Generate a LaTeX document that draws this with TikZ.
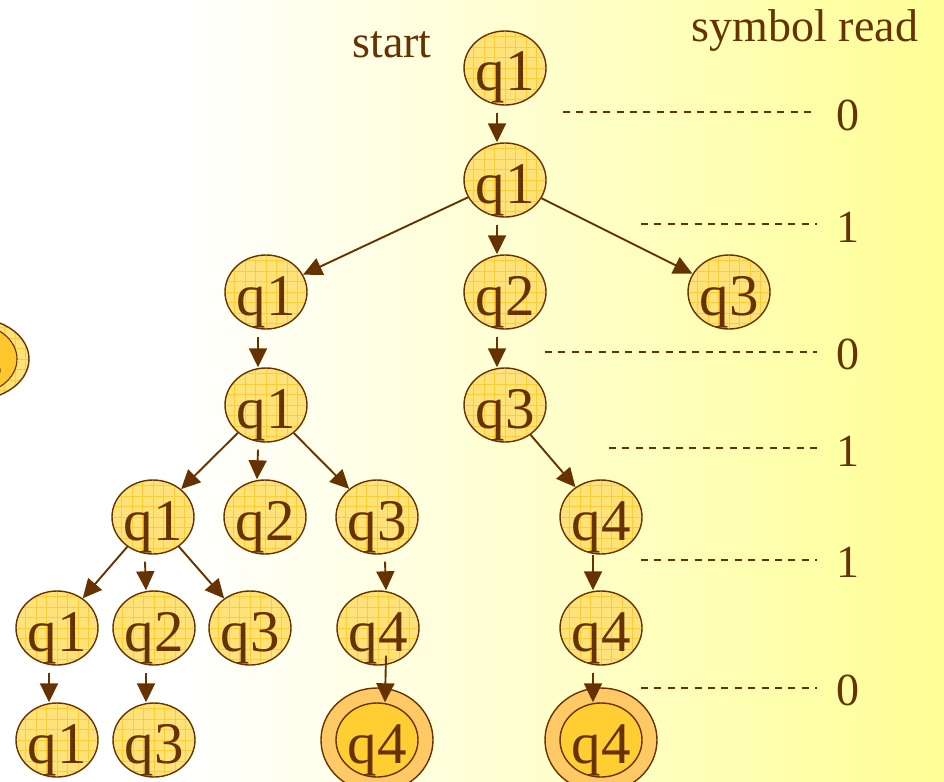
\documentclass[tikz,border=0pt]{standalone}
\usepackage{fontspec}
\setmainfont{Liberation Serif}
\usetikzlibrary{shapes.geometric,arrows.meta}

\definecolor{ink}{RGB}{102,51,0}
\definecolor{nodefill}{RGB}{255,226,122}
\definecolor{gridcol}{RGB}{255,204,51}
\definecolor{accouter}{RGB}{255,201,102}
\definecolor{accinner}{RGB}{255,206,51}
\definecolor{bgyellow}{RGB}{255,255,150}

\tikzset{
  state/.style={ellipse, draw=ink, line width=1.4pt, fill=#1,
    minimum width=82pt, minimum height=74pt, inner sep=0pt,
    path picture={\draw[gridcol, line width=0.6pt]
      ([shift={(-55pt,-55pt)}]path picture bounding box.center)
      grid[step=10.5pt] ++(110pt,110pt);}},
  state/.default=nodefill,
  accring/.style={ellipse, draw=ink, line width=1.4pt, fill=accouter,
    minimum width=112pt, minimum height=104pt, inner sep=0pt},
  qtxt/.style={anchor=base, inner sep=0pt, text=ink,
    font=\fontsize{59}{59}\selectfont},
  lbl/.style={anchor=base, inner sep=0pt, text=ink,
    font=\fontsize{46}{46}\selectfont},
  arr/.style={draw=ink, line width=1.9pt,
    -{Triangle[length=19pt,width=18pt]}},
  level/.style={draw=ink, line width=1.5pt, dash pattern=on 7pt off 6.4pt}
}

% a state: ellipse plus its name set on a fixed baseline
\newcommand\qstate[5][nodefill]{%
  \node[state=#1] (#2) at (#3,#4) {};
  \node[qtxt] (#2-t) at ([yshift=-23pt]#2.center) {#5};}

\begin{document}
\begin{tikzpicture}[x=1pt, y=-1pt]
  % background
  \useasboundingbox (0,0) rectangle (944,781);
  \fill[white] (0,0) rectangle (181,781);
  \shade[left color=white, right color=bgyellow] (180,0) rectangle (944,781);

  % partly hidden accepting state at the left edge
  \node[ellipse, draw=ink, line width=1.4pt, fill=nodefill,
    minimum width=112pt, minimum height=82pt, inner sep=0pt,
    path picture={\draw[gridcol, line width=0.6pt]
      ([shift={(-60pt,-60pt)}]path picture bounding box.center)
      grid[step=10.5pt] ++(120pt,120pt);}] (edge) at (-27,359) {};
  \node[ellipse, draw=ink, line width=1.1pt, fill=accinner!90!orange,
    minimum width=88pt, minimum height=70pt, inner sep=0pt] (edgein) at (-27,359) {};
  \node[qtxt] (edge-t) at ([yshift=-22pt]edge.center) {q4};

  % headings
  \node[lbl] (start) at (392,58) {start};
  \node[lbl] (symread) at (805,42) {symbol read};

  % tree of states
  \qstate{r0}{505}{68}{q1}
  \qstate{r1}{505}{180}{q1}
  \qstate{a}{266}{292}{q1}
  \qstate{b}{505}{292}{q2}
  \qstate{c}{729}{292}{q3}
  \qstate{d}{266}{405}{q1}
  \qstate{e}{505}{405}{q3}
  \qstate{f}{153}{517}{q1}
  \qstate{g}{265}{517}{q2}
  \qstate{h}{377}{517}{q3}
  \qstate{i}{601}{517}{q4}
  \qstate{j}{57}{628}{q1}
  \qstate{k}{154}{628}{q2}
  \qstate{l}{250}{628}{q3}
  \qstate{m}{378}{628}{q4}
  \qstate{n}{601}{628}{q4}
  \qstate{o}{57}{740}{q1}
  \qstate{p}{154}{740}{q3}

  % accepting states
  \node[accring] (acc1) at (377,740) {};
  \qstate[accinner]{acc1in}{377}{740}{q4}
  \node[accring] (acc2) at (601,740) {};
  \qstate[accinner]{acc2in}{601}{740}{q4}

  % transitions
  \draw[arr] ([xshift=-8pt,yshift=-7pt]r0.south) -- ([xshift=-8pt]r1.north);
  \draw[arr] (r1) -- (a);
  \draw[arr] ([xshift=-8pt,yshift=-7pt]r1.south) -- ([xshift=-8pt]b.north);
  \draw[arr] (r1) -- (c);
  \draw[arr] ([xshift=-8pt,yshift=-7pt]a.south) -- ([xshift=-8pt]d.north);
  \draw[arr] ([xshift=-8pt,yshift=-7pt]b.south) -- ([xshift=-8pt]e.north);
  \draw[arr] (d) -- (f);
  \draw[arr] ([xshift=-8pt,yshift=-7pt]d.south) -- ([xshift=-8pt]g.north);
  \draw[arr] (d) -- (h);
  \draw[arr] (e) -- (i);
  \draw[arr] (f) -- (j);
  \draw[arr] ([xshift=-8pt,yshift=-7pt]f.south) -- ([xshift=-8pt]k.north);
  \draw[arr] (f) -- (l);
  \draw[arr] ([xshift=8pt,yshift=-7pt]h.south) -- ([xshift=8pt]m.north);
  \draw[arr] ([xshift=-8pt]i.south) -- ([xshift=-8pt]n.north);
  \draw[arr] ([xshift=-8pt,yshift=-7pt]j.south) -- ([xshift=-8pt]o.north);
  \draw[arr] ([xshift=-8pt,yshift=-7pt]k.south) -- ([xshift=-8pt]p.north);
  \draw[arr] ([xshift=8pt,yshift=10pt]m.south) -- ([xshift=8pt]acc1in.north);
  \draw[arr] ([xshift=-8pt,yshift=-7pt]n.south) -- ([xshift=-8pt]acc2in.north);

  % symbols read, level by level
  \coordinate (s0) at (817,112);
  \coordinate (s1) at (817,224);
  \coordinate (s2) at (817,352);
  \coordinate (s3) at (817,448);
  \coordinate (s4) at (817,560);
  \coordinate (s5) at (817,688);
  \coordinate (t0) at (563,112);
  \coordinate (t1) at (641,224);
  \coordinate (t2) at (545,352);
  \coordinate (t3) at (609,448);
  \coordinate (t4) at (641,560);
  \coordinate (t5) at (641,688);
  \foreach \k in {0,...,5} \draw[level] (t\k) -- (s\k);
  \node[lbl] (v0) at (848,130) {0};
  \node[lbl] (v1) at (848,242) {1};
  \node[lbl] (v2) at (848,369) {0};
  \node[lbl] (v3) at (848,466) {1};
  \node[lbl] (v4) at (848,577) {1};
  \node[lbl] (v5) at (848,705) {0};
\end{tikzpicture}
\end{document}
